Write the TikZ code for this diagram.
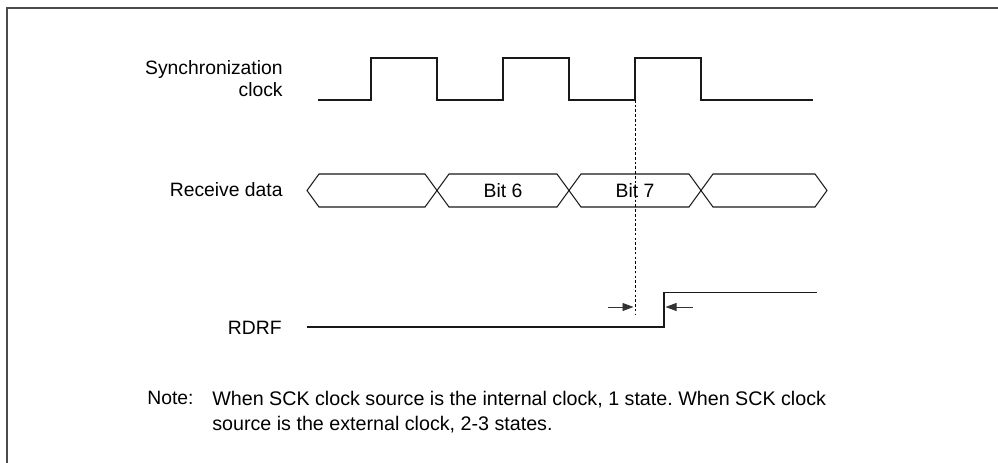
\documentclass[tikz,border=0pt]{standalone}
\usepackage{fontspec}
\setmainfont{Liberation Sans}
\usepackage{tikz}
\usetikzlibrary{arrows.meta, positioning}
\frenchspacing

\begin{document}
\begin{tikzpicture}[
    every node/.style={font=\fontsize{11}{12.5}\selectfont, inner sep=0pt},
    sig/.style={line width=0.6pt, black!90},
    frm/.style={line width=0.9pt, black!70},
    dotline/.style={dash pattern=on 1.5pt off 1.2pt, line width=0.5pt},
    arr/.style={-{Triangle[length=0.22cm, width=0.16cm]}, line width=0.5pt, black!80}
  ]
    \useasboundingbox (0,0) rectangle (19.96,-9.26);
    % frame
    \draw[frm] (0.14,-9.26) -- (0.14,-0.16) -- (19.96,-0.16);

    % clock
    \node[anchor=east, align=right] (clklbl) at (5.66,-1.58) {Synchronization\\clock};
    \draw[sig] (6.36,-2.00) -- (7.42,-2.00) -- (7.42,-1.16) -- (8.74,-1.16) -- (8.74,-2.00)
      -- (10.06,-2.00) -- (10.06,-1.16) -- (11.38,-1.16) -- (11.38,-2.00)
      -- (12.70,-2.00) -- (12.70,-1.16) -- (14.02,-1.16) -- (14.02,-2.00) -- (16.26,-2.00);
    \coordinate (edge) at (12.70,-2.00);

    % receive data
    \node[anchor=east] (datlbl) at (5.66,-3.79) {Receive data};
    \foreach \a/\b in {6.14/8.74, 8.74/11.38, 11.38/14.02, 14.02/16.54} {
      \draw[sig] (\a,-3.81) -- (\a+0.24,-3.48) -- (\b-0.24,-3.48) -- (\b,-3.81)
        -- (\b-0.24,-4.14) -- (\a+0.24,-4.14) -- cycle;
    }
    \node (bit6) at (10.06,-3.81) {Bit 6};
    \node (bit7) at (12.70,-3.81) {Bit 7};

    % RDRF
    \node[anchor=east] (rdrflbl) at (5.64,-6.56) {RDRF};
    \draw[sig] (6.14,-6.54) -- (13.28,-6.54) -- (13.28,-5.85) -- (16.34,-5.85);
    \coordinate (mkend) at (12.70,-6.30);
    \draw[dotline] (edge) -- (mkend);
    \coordinate (la) at (12.16,-6.14);
    \coordinate (lb) at (12.67,-6.14);
    \coordinate (ra) at (13.86,-6.14);
    \coordinate (rb) at (13.31,-6.14);
    \draw[arr] (la) -- (lb);
    \draw[arr] (ra) -- (rb);

    % note
    \node[anchor=north west] (notelbl) at (2.94,-7.82) {Note:};
    \node[anchor=north west, align=left, font=\fontsize{11.2}{14.2}\selectfont] (notetxt) at (4.24,-7.82)
      {When SCK clock source is the internal clock, 1 state. When SCK clock\\source is the external clock, 2-3 states.};
  \end{tikzpicture}
\end{document}
